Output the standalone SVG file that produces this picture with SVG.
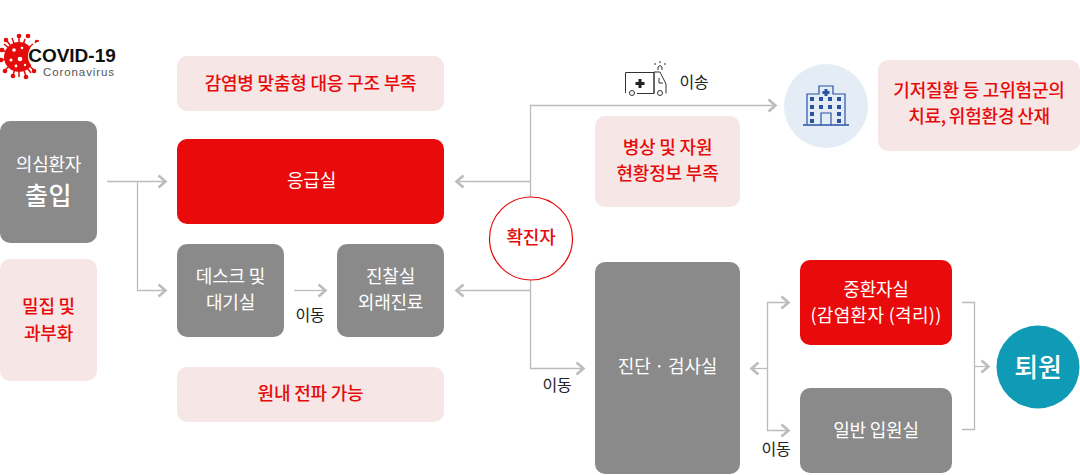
<svg xmlns="http://www.w3.org/2000/svg" width="1080" height="475" viewBox="0 0 1080 475">
<style>
text{font-family:"Noto Sans CJK KR","Noto Sans",sans-serif;text-anchor:middle;letter-spacing:-.2px}
.w{fill:#fff;font-size:18px}
.r{fill:#e60b0b;font-size:18px;font-weight:500}
.k{fill:#222;font-size:16px}
.gray{fill:#8a8a8a}.red{fill:#e90b0b}.pink{fill:#f6e6e6}
.c{fill:none;stroke:#bcbcbc;stroke-width:1.3}
</style>
<defs>
<marker id="arr" markerUnits="userSpaceOnUse" markerWidth="12" markerHeight="16" refX="9.5" refY="8" orient="auto"><path d="M2 2L9 8L2 14" fill="none" stroke="#bcbcbc" stroke-width="2.6"/></marker>
</defs>
<g id="connectors">
<path class="c" marker-end="url(#arr)" d="M107 181.500H166"/>
<path class="c" marker-end="url(#arr)" d="M137.500 181.500V290.500H166"/>
<path class="c" marker-end="url(#arr)" d="M294 290.500H326"/>
<path class="c" marker-end="url(#arr)" d="M530.500 181.500H456"/>
<path class="c" marker-end="url(#arr)" d="M530.500 290.500H456"/>
<path class="c" marker-end="url(#arr)" d="M530.500 197V105.500H776"/>
<path class="c" marker-end="url(#arr)" d="M530.500 280V368.500H584"/>
<path class="c" marker-end="url(#arr)" d="M767.500 368.500H751"/>
<path class="c" marker-end="url(#arr)" d="M767.500 368.500V302.500H789"/>
<path class="c" marker-end="url(#arr)" d="M767.500 368.500V430.500H789"/>
<path class="c" d="M962 302.500H974.500V429.500H962"/>
<path class="c" marker-end="url(#arr)" d="M974.500 366.500H989"/>
</g>
<g id="logo">
<g stroke="#e60b0b" stroke-width="1.500" fill="#e60b0b">
<path d="M19 37V77M7 41L31 73M2 50L36 64M1 60L37 54M5 70L33 44M13 75L25 39M26 76L12 38M34 70L4 44"/>
<circle cx="19" cy="36" r="1.600"/><circle cx="6" cy="40" r="1.600"/><circle cx="2" cy="50" r="1.600"/><circle cx="1" cy="60" r="1.600"/><circle cx="5" cy="71" r="1.600"/><circle cx="13" cy="76" r="1.600"/><circle cx="26" cy="77" r="1.600"/><circle cx="34" cy="71" r="1.600"/><circle cx="37" cy="42" r="1.600"/><circle cx="28" cy="36" r="1.600"/>
</g>
<circle cx="19" cy="57" r="15" fill="#e60b0b"/>
<g fill="#fff"><circle cx="14" cy="50" r="1.800"/><circle cx="20" cy="59" r="2.300"/><circle cx="11" cy="60" r="1.500"/><circle cx="22" cy="48" r="1.300"/><circle cx="16" cy="66" r="1.400"/><circle cx="25" cy="65" r="1.200"/><circle cx="43" cy="56" r="15"/></g>
<text x="72" y="62" style="font-family:'Liberation Sans',sans-serif;font-weight:700;font-size:19px;letter-spacing:0" fill="#111">COVID-19</text>
<text x="79" y="76" style="font-family:'Liberation Sans',sans-serif;font-size:11.500px;letter-spacing:.9px" fill="#555">Coronavirus</text>
</g>
<g id="suspect"><rect class="gray" x="0" y="121" width="97" height="122" rx="10"/><text class="w" x="48.500" y="171">의심환자</text><text class="w" x="48.500" y="205" style="font-size:25px;font-weight:500;letter-spacing:.5px">출입</text></g>
<g id="crowd"><rect class="pink" x="0" y="259" width="97" height="122" rx="10"/><text class="r" x="48.500" y="313">밀집 및</text><text class="r" x="48.500" y="340">과부화</text></g>
<g id="lack"><rect class="pink" x="177" y="56" width="267" height="55" rx="10"/><text class="r" x="310.500" y="90">감염병 맞춤형 대응 구조 부족</text></g>
<g id="er"><rect class="red" x="177" y="139" width="267" height="85" rx="10"/><text class="w" x="311.500" y="187">응급실</text></g>
<g id="desk"><rect class="gray" x="177" y="244" width="107" height="93" rx="10"/><text class="w" x="230.500" y="283">데스크 및</text><text class="w" x="230.500" y="309">대기실</text></g>
<g id="clinic"><rect class="gray" x="337" y="244" width="107" height="93" rx="10"/><text class="w" x="390.500" y="283">진찰실</text><text class="w" x="390.500" y="309">외래진료</text></g>
<g id="spread"><rect class="pink" x="177" y="367" width="267" height="55" rx="10"/><text class="r" x="310.500" y="400">원내 전파 가능</text></g>
<g id="confirmed"><circle cx="531" cy="238.500" r="41.500" fill="#fff" stroke="#e60b0b" stroke-width="1.200"/><text class="r" x="531" y="244">확진자</text></g>
<g id="beds"><rect class="pink" x="595" y="116" width="145" height="91" rx="10"/><text class="r" x="667.500" y="154">병상 및 자원</text><text class="r" x="667.500" y="180">현황정보 부족</text></g>
<g id="diagnosis"><rect class="gray" x="595" y="262" width="145" height="212" rx="10"/><text class="w" x="667.500" y="373">진단 · 검사실</text></g>
<g id="icu"><rect class="red" x="800" y="260" width="152" height="85" rx="10"/><text class="w" x="876" y="296">중환자실</text><text class="w" x="876" y="322" style="letter-spacing:.3px">(감염환자 (격리))</text></g>
<g id="ward"><rect class="gray" x="800" y="388" width="152" height="85" rx="10"/><text class="w" x="876" y="437">일반 입원실</text></g>
<g id="discharge"><circle cx="1038" cy="367" r="41.500" fill="#0f9bb5"/><text x="1038" y="377" style="font-size:26px;font-weight:500" fill="#fff">퇴원</text></g>
<g id="hospital"><circle cx="826" cy="106" r="42" fill="#e4edf5"/>
<g fill="none" stroke="#2a52a5" stroke-width="1.200"><path d="M807 124.500V94H819V86H833V94H845V124.500"/><path d="M803 125H849" stroke-width="1.500"/><path d="M821 125V113H831V125"/></g>
<g fill="#2a52a5"><path d="M824.500 89h3v2h2v3h-2v2h-3v-2h-2v-3h2z"/><rect x="810" y="97" width="4" height="4"/><rect x="819" y="97" width="4" height="4"/><rect x="828" y="97" width="4" height="4"/><rect x="837" y="97" width="4" height="4"/><rect x="810" y="105" width="4" height="4"/><rect x="819" y="105" width="4" height="4"/><rect x="828" y="105" width="4" height="4"/><rect x="837" y="105" width="4" height="4"/><rect x="810" y="112" width="4" height="4"/><rect x="837" y="112" width="4" height="4"/><rect x="810" y="119" width="4" height="4"/><rect x="837" y="119" width="4" height="4"/></g></g>
<g id="risk"><rect class="pink" x="878" y="60" width="202" height="91" rx="10"/><text class="r" x="979" y="97">기저질환 등 고위험군의</text><text class="r" x="979" y="123" style="word-spacing:-1px">치료, 위험환경 산재</text></g>
<g id="ambulance"><g fill="none" stroke="#333" stroke-width="1"><path d="M625.500 93V72.500H654V93.500H637"/><path d="M654 93.500V72H660L666 84V93.500"/><path d="M658 70V67Q660 64 662 67V70M659 78V83H663"/><circle cx="632" cy="93" r="2.500"/><circle cx="660" cy="93" r="2.500"/><path d="M655 65V63M660 63V61M665 65V63"/></g><path d="M638.500 79h3v3h3v3h-3v3h-3v-3h-3v-3h3z" fill="#222"/></g>
<g id="labels">
<text class="k" x="694" y="88">이송</text>
<text class="k" x="310" y="321">이동</text>
<text class="k" x="557" y="391">이동</text>
<text class="k" x="776" y="455">이동</text>
</g>
</svg>
